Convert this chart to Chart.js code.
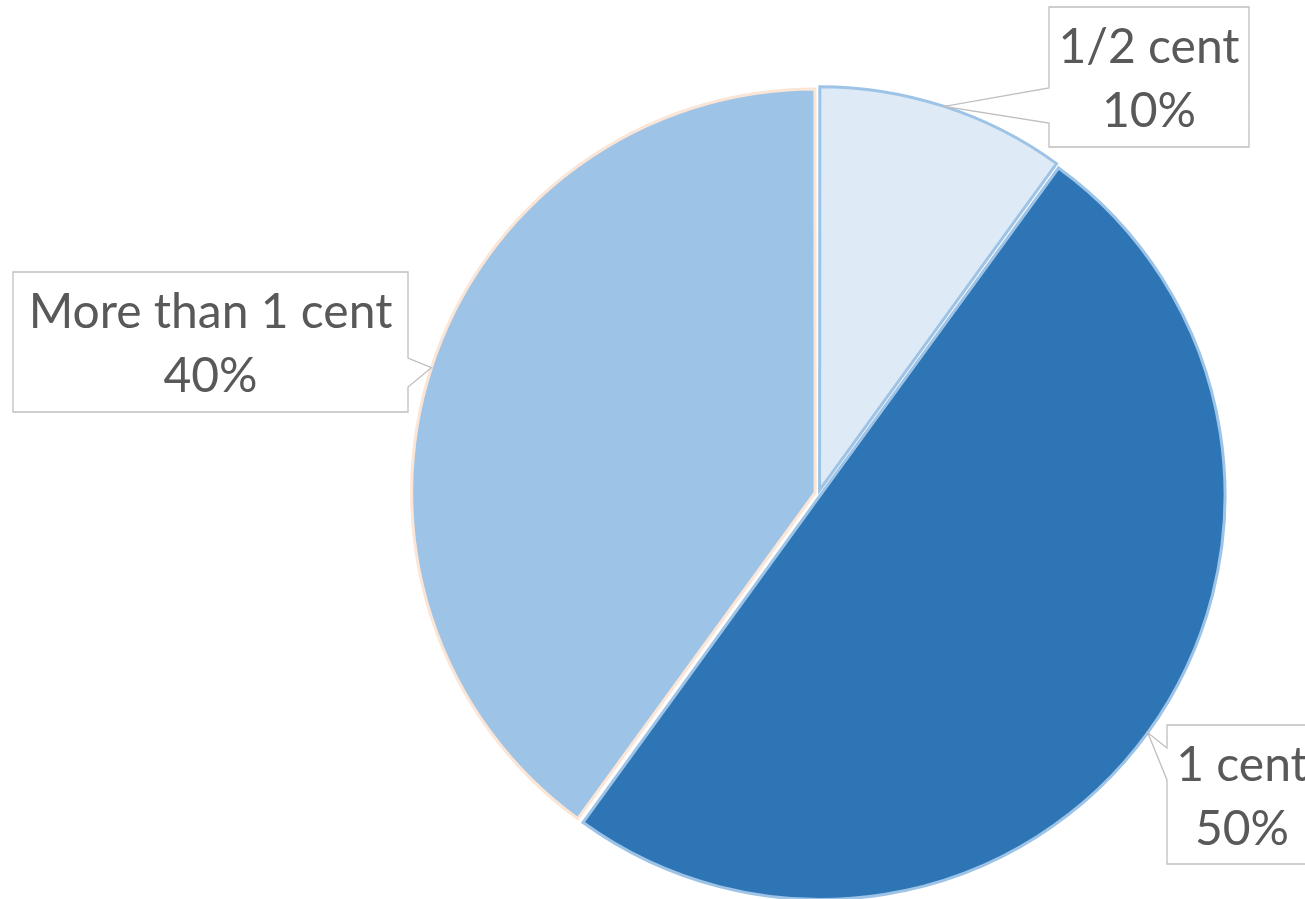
<!DOCTYPE html>
<html>
<head>
<meta charset="utf-8">
<script src="https://cdn.jsdelivr.net/npm/chart.js@4"></script>
<style>
  html, body { margin: 0; padding: 0; background: #ffffff; }
  #wrap { width: 1305px; height: 899px; position: relative; }
</style>
</head>
<body>
<div id="wrap"><canvas id="c"></canvas></div>
<script>
// ---- data ----
const categories = ['1/2 cent', '1 cent', 'More than 1 cent'];
const shares = [10, 50, 40];
const percentLabels = ['10%', '50%', '40%'];

// ---- styles ----
const fillColors = ['#DEEBF7', '#2E75B6', '#9DC3E6'];
const edgeColors = ['#9DC3E6', '#9DC3E6', '#FBE5D6'];
const SLICE_GAP = 5; // wanted displacement of each slice, px

// Chart.js v4 arcs move by offset/4 * (2 - sin(circumference)); invert that
function offsetFor(ctx) {
  const total = shares.reduce((a, b) => a + b, 0);
  const circ = shares[ctx.dataIndex] / total * Math.PI * 2;
  const k = (2 - Math.sin(Math.min(Math.PI, circ))) / 4;
  return SLICE_GAP / k;
}

// callout box layout
const calloutLayout = [
  { left: 1049, top: 7,   w: 200, h: 140, side: 'left',  n1: 81, n2: 116 },
  { left: 1167, top: 725, w: 150, h: 139, side: 'left',  n1: 23, n2: 55 },
  { left: 13,   top: 272, w: 395, h: 140, side: 'right', n1: 86, n2: 115 }
];

const FONT = '48px Lato';
const calloutPlugin = {
  id: 'callouts',
  afterDatasetsDraw(chart) {
    const ctx = chart.ctx;
    const meta = chart.getDatasetMeta(0);
    ctx.save();
    ctx.font = FONT;
    meta.data.forEach((arc, i) => {
      const p = arc.getProps(['x', 'y', 'startAngle', 'endAngle', 'outerRadius'], true);
      const mid = (p.startAngle + p.endAngle) / 2;
      const circ = p.endAngle - p.startAngle;
      const off = (arc.options.offset || 0) / 4 * (2 - Math.sin(Math.min(Math.PI, circ)));
      const ax = p.x + Math.cos(mid) * (p.outerRadius + off);
      const ay = p.y + Math.sin(mid) * (p.outerRadius + off);
      const L = calloutLayout[i];
      const left = L.left, right = L.left + L.w;
      const top = L.top, bot = L.top + L.h;
      ctx.beginPath();
      if (L.side === 'left') {
        ctx.moveTo(left, top);
        ctx.lineTo(right, top);
        ctx.lineTo(right, bot);
        ctx.lineTo(left, bot);
        ctx.lineTo(left, top + L.n2);
        ctx.lineTo(ax, ay);
        ctx.lineTo(left, top + L.n1);
        ctx.closePath();
      } else {
        ctx.moveTo(left, top);
        ctx.lineTo(right, top);
        ctx.lineTo(right, top + L.n1);
        ctx.lineTo(ax, ay);
        ctx.lineTo(right, top + L.n2);
        ctx.lineTo(right, bot);
        ctx.lineTo(left, bot);
        ctx.closePath();
      }
      ctx.fillStyle = '#ffffff';
      ctx.fill();
      ctx.strokeStyle = '#BFBFBF';
      ctx.lineWidth = 1.3;
      ctx.lineJoin = 'miter';
      ctx.stroke();
      ctx.fillStyle = '#595959';
      ctx.textAlign = 'center';
      ctx.textBaseline = 'alphabetic';
      const cx = (left + right) / 2;
      ctx.fillText(categories[i], cx, top + 56);
      ctx.fillText(percentLabels[i], cx, top + 120);
    });
    ctx.restore();
  }
};

new Chart(document.getElementById('c'), {
  type: 'pie',
  data: {
    labels: categories,
    datasets: [{
      data: shares,
      backgroundColor: fillColors,
      borderColor: edgeColors,
      borderWidth: 3,
      borderJoinStyle: 'miter',
      offset: offsetFor,
      clip: false
    }]
  },
  options: {
    responsive: true,
    maintainAspectRatio: false,
    animation: false,
    radius: 402,
    layout: { padding: { left: 332, right: 0, top: 88, bottom: 0 } },
    plugins: { legend: { display: false }, tooltip: { enabled: false } }
  },
  plugins: [calloutPlugin]
});
</script>
</body>
</html>
